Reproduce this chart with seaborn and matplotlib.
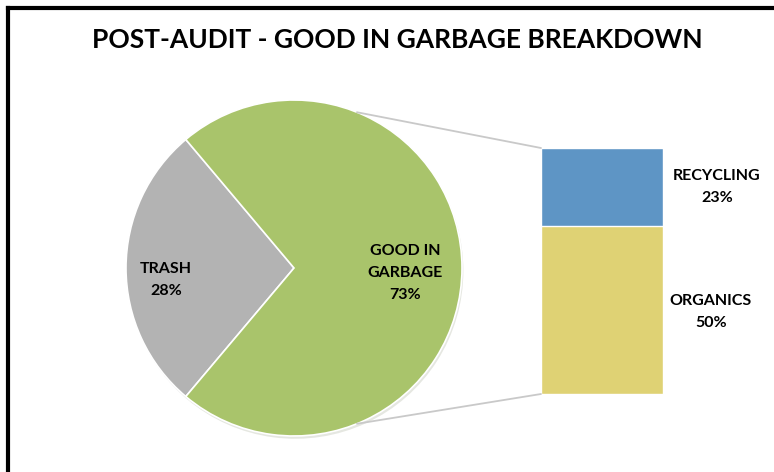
import matplotlib
matplotlib.use('Agg')
import matplotlib.pyplot as plt
import matplotlib.patheffects as pe
from matplotlib.patches import ConnectionPatch
import numpy as np
import pandas as pd
import seaborn as sns

# ---- data ----
pie_labels = ['TRASH', 'GOOD IN\nGARBAGE']
pie_values = [28, 73]
pie_colors = ['#B3B3B3', '#A9C46B']

bar_labels = ['RECYCLING', 'ORGANICS']
bar_values = [23, 50]
bar_colors = ['#5E95C5', '#DFD274']

title = 'POST-AUDIT - GOOD IN GARBAGE BREAKDOWN'

sns.set_theme(style='white')
plt.rcParams['font.family'] = ['Lato', 'DejaVu Sans']

W, H = 774, 472
fig = plt.figure(figsize=(W / 100, H / 100), dpi=100)
fig.patch.set_facecolor('white')

# main axes in pixel units (y up)
ax = fig.add_axes([0, 0, 1, 1])
total = sum(pie_values)
start = 180 - pie_values[0] / total * 360 / 2
shadow = [pe.SimplePatchShadow(offset=(1, -2), alpha=0.15, rho=0.5), pe.Normal()]
wedges, _ = ax.pie(pie_values, colors=pie_colors, startangle=start, counterclock=True,
                   center=(294, 204), radius=168, frame=True,
                   wedgeprops=dict(edgecolor='white', linewidth=1.2))
for w in wedges:
    w.set_path_effects(shadow)
    w.set_zorder(3)
ax.set_xlim(0, W)
ax.set_ylim(0, H)
ax.set_aspect('equal')
ax.axis('off')

# border of the original screenshot
ax.plot([8, 8], [0, H - 8], color='black', lw=3, solid_capstyle='projecting')
ax.plot([8, W], [H - 8, H - 8], color='black', lw=3, solid_capstyle='projecting')

ax.text(397, H - 40, title, ha='center', va='center', fontsize=19, fontweight='bold',
        color='black')

lab_style = dict(ha='center', va='center', fontsize=11.5, fontweight='bold',
                 color='black', linespacing=1.75, zorder=5)
ax.text(166, H - 280, f'{pie_labels[0]}\n{pie_values[0]}%', **lab_style)
ax.text(405, H - 273, f'{pie_labels[1]}\n{pie_values[1]}%', **lab_style)

# stacked bar (bar of pie)
bax = fig.add_axes([541 / W, (H - 394) / H, 122 / W, 246 / H])
df = pd.DataFrame({'x': ['g'], 'total': [sum(bar_values)], 'bottom': [bar_values[1]]})
sns.barplot(data=df, x='x', y='total', color=bar_colors[0], width=1, saturation=1,
            edgecolor='white', linewidth=1, ax=bax)
sns.barplot(data=df, x='x', y='bottom', color=bar_colors[1], width=1, saturation=1,
            edgecolor='white', linewidth=1, ax=bax)
for p in bax.patches:
    p.set_path_effects(shadow)
bax.set_xlim(-0.5, 0.5)
bax.set_ylim(0, sum(bar_values))
bax.axis('off')

bx = 717
ax.text(bx, H - 187, f'{bar_labels[0]}\n{bar_values[0]}%', **lab_style)
ax.text(bx - 6, H - 312, f'{bar_labels[1]}\n{bar_values[1]}%', **lab_style)

# connector lines
cx, cy, r = 294, 204, 168
for ang, yb in [(68, sum(bar_values)), (-68, 0)]:
    p0 = (cx + r * np.cos(np.radians(ang)), cy + r * np.sin(np.radians(ang)))
    con = ConnectionPatch(xyA=p0, coordsA=ax.transData, xyB=(-0.5, yb), coordsB=bax.transData,
                          color='#C9C9C9', lw=1.3, zorder=1)
    fig.add_artist(con)

plt.savefig('out.png', dpi=100, facecolor='white')
